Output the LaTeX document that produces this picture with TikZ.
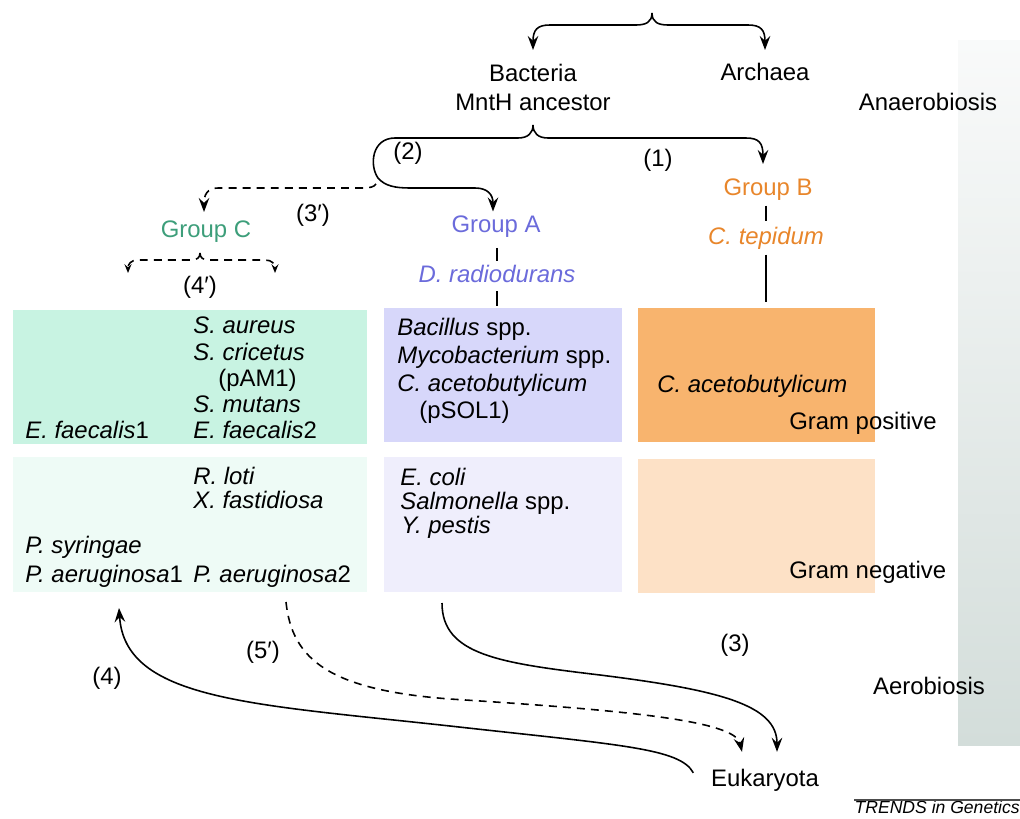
\documentclass[tikz,border=0pt]{standalone}
\usepackage{fontspec}
\setmainfont{Liberation Sans}
\usetikzlibrary{arrows.meta,positioning}
\definecolor{grpCtext}{HTML}{3D9E7A}
\definecolor{grpAtext}{HTML}{6B6BDB}
\definecolor{grpBtext}{HTML}{E8862B}
\definecolor{grpCpos}{HTML}{C8F3E2}
\definecolor{grpCneg}{HTML}{EEFBF6}
\definecolor{grpApos}{HTML}{D7D7FA}
\definecolor{grpAneg}{HTML}{EFEEFC}
\definecolor{grpBpos}{HTML}{F8B46E}
\definecolor{grpBneg}{HTML}{FDE1C6}
\definecolor{barTop}{HTML}{F9FAFA}
\definecolor{barBot}{HTML}{D3DDDA}
\tikzset{
	txt/.style={font=\fontsize{13.6}{16}\selectfont, inner sep=2pt},
	species/.style={font=\fontsize{13.6}{16}\selectfont, inner sep=0pt, anchor=base west},
	linkarrow/.style={line width=0.9pt, -{Stealth[length=8pt,width=6pt,inset=2.8pt]}},
	linkdash/.style={linkarrow, dash pattern=on 4.5pt off 3.5pt},
	forkdash/.style={line width=0.9pt, dash pattern=on 4.5pt off 3.5pt, -{Stealth[length=5pt,width=4pt,inset=1.8pt]}},
	tick/.style={line width=0.9pt}
}
\begin{document}
\begin{tikzpicture}[x=0.02cm, y=-0.02cm]
		\useasboundingbox (0,0) rectangle (1020,818);
		% Oxygen bar
		\shade[top color=barTop, bottom color=barBot] (958,40) rectangle (1020,745);
		% Boxes
		\fill[grpCpos] (13,310) rectangle (367,444);
		\fill[grpCneg] (13,457) rectangle (367,592);
		\fill[grpApos] (384,308) rectangle (622,442);
		\fill[grpAneg] (384,457) rectangle (622,592);
		\fill[grpBpos] (638,308) rectangle (875,442);
		\fill[grpBneg] (638,459) rectangle (875,593);
		% Top of the tree
		\coordinate (topTip) at (652,13);
		\node[txt, anchor=base] (bact) at (533,81) {Bacteria};
		\node[txt, anchor=base] (mnth) at (533,110) {MntH ancestor};
		\node[txt, anchor=base] (arch) at (765,80) {Archaea};
		\node[txt, anchor=base] (anaer) at (928,110) {Anaerobiosis};
		\draw[linkarrow] (topTip) .. controls (652,22) and (646,25) .. (636,25) -- (550,25) .. controls (537,25) and (533,30) .. (bact.north |- 0,50);
		\draw[linkarrow] (topTip) .. controls (652,22) and (658,25) .. (668,25) -- (748,25) .. controls (761,25) and (765,30) .. (arch.north |- 0,50);
		% Groups
		\node[txt, anchor=base, text=grpCtext] (grpC) at (206,237) {Group C};
		\node[txt, anchor=base, text=grpAtext] (grpA) at (496,232) {Group A};
		\node[txt, anchor=base, text=grpBtext] (grpB) at (768,195) {Group B};
		\node[txt, anchor=base, text=grpAtext] (drad) at (497,282) {\textit{D. radiodurans}};
		\node[txt, anchor=base, text=grpBtext] (ctep) at (766,244) {\textit{C. tepidum}};
		\draw[tick, shorten <=4pt] (drad.north |- grpA.south) -- (drad.north);
		\draw[tick, shorten <=3pt] (drad.south) -- (drad.south |- 0,306);
		\draw[tick, shorten <=1pt, shorten >=1pt] (ctep.north |- grpB.south) -- (ctep.north);
		\draw[tick, shorten <=1pt] (ctep.south) -- (ctep.south |- 0,302);
		% Second split
		\coordinate (midTip) at (533,125);
		\coordinate (jn) at (376,184);
		\draw[linkarrow] (midTip) .. controls (533,133) and (538,138) .. (548,138) -- (746,138) .. controls (759,138) and (763,143) .. (763,164);
		\draw[linkarrow] (midTip) .. controls (533,133) and (528,138) .. (518,138) -- (395,138) .. controls (372,138) and (369,165) .. (378,178) .. controls (385,186) and (395,188) .. (410,188) -- (475,188) .. controls (488,188) and (493,195) .. (grpA.north -| 493,0);
		\draw[linkdash] (jn) .. controls (374,187) and (370,188) .. (362,188) -- (218,188) .. controls (207,188) and (204,195) .. (204,212);
		\node[txt] (lbl2) at (408,153) {(2)};
		\node[txt] (lbl1) at (658,160) {(1)};
		\node[txt] (lbl3p) at (313,215) {(3′)};
		% Group C fork
		\coordinate (cTip) at (200,253);
		\draw[forkdash] (cTip) .. controls (200,258) and (197,260) .. (190,260) -- (138,260) .. controls (131,260) and (128,264) .. (128,273);
		\draw[forkdash] (cTip) .. controls (200,258) and (203,260) .. (210,260) -- (265,260) .. controls (272,260) and (275,264) .. (275,273);
		\node[txt] (lbl4p) at (200,287) {(4′)};
		% Group C species
		\node[species] (saur) at (193,333) {\textit{S. aureus}};
		\node[species] (scri) at (193,360) {\textit{S. cricetus}};
		\node[species] (pam) at (218,386) {(pAM1)};
		\node[species] (smut) at (193,412) {\textit{S. mutans}};
		\node[species] (efae2) at (193,438) {\textit{E. faecalis}2};
		\node[species] (efae1) at (25,438) {\textit{E. faecalis}1};
		\node[species] (rlot) at (193,484) {\textit{R. loti}};
		\node[species] (xfas) at (193,508) {\textit{X. fastidiosa}};
		\node[species] (psyr) at (25,553) {\textit{P. syringae}};
		\node[species] (paer1) at (25,582) {\textit{P. aeruginosa}1};
		\node[species] (paer2) at (193,582) {\textit{P. aeruginosa}2};
		% Group A species
		\node[species] (baci) at (397,335) {\textit{Bacillus} spp.};
		\node[species] (myco) at (397,363) {\textit{Mycobacterium} spp.};
		\node[species] (cace) at (397,391) {\textit{C. acetobutylicum}};
		\node[species] (psol) at (419,418) {(pSOL1)};
		\node[species] (ecol) at (400,485) {\textit{E. coli}};
		\node[species] (salm) at (400,509) {\textit{Salmonella} spp.};
		\node[species] (ypes) at (401,533) {\textit{Y. pestis}};
		% Group B species
		\node[species] (caceB) at (657,392) {\textit{C. acetobutylicum}};
		\node[species] (gpos) at (789,429) {Gram positive};
		\node[species] (gneg) at (789,578) {Gram negative};
		% Bottom transfers
		\node[txt, anchor=base] (eukar) at (765,786) {Eukaryota};
		\node[txt, anchor=base] (aerob) at (929,694) {Aerobiosis};
		\coordinate (s3) at (442,603);
		\coordinate (s5) at (286,602);
		\coordinate (s4) at ([shift={(-14,-7)}]eukar.west);
		\coordinate (e3) at ([shift={(12,-13)}]eukar.north);
		\coordinate (e5) at ([shift={(-23,-13)}]eukar.north);
		\coordinate (e4) at (119,608);
		\draw[linkarrow] (s3) .. controls (442,655) and (500,663) .. (600,675) .. controls (720,690) and (777,705) .. (e3);
		\draw[linkdash] (s5) .. controls (292,660) and (330,690) .. (450,699) .. controls (620,710) and (735,720) .. (e5);
		\draw[linkarrow] (s4) .. controls (680,748) and (620,745) .. (450,726) .. controls (250,704) and (125,700) .. (e4);
		\node[txt] (lbl4) at (107,678) {(4)};
		\node[txt] (lbl5p) at (263,652) {(5′)};
		\node[txt] (lbl3) at (735,645) {(3)};
		% Source line
		\node[anchor=base east, inner sep=0pt, font=\fontsize{10}{12}\selectfont\itshape] (trends) at (1020,813) {TRENDS in Genetics};
		\draw[line width=0.6pt, black!70] (trends.west |- 0,800) -- (1020,800);
	\end{tikzpicture}
\end{document}
